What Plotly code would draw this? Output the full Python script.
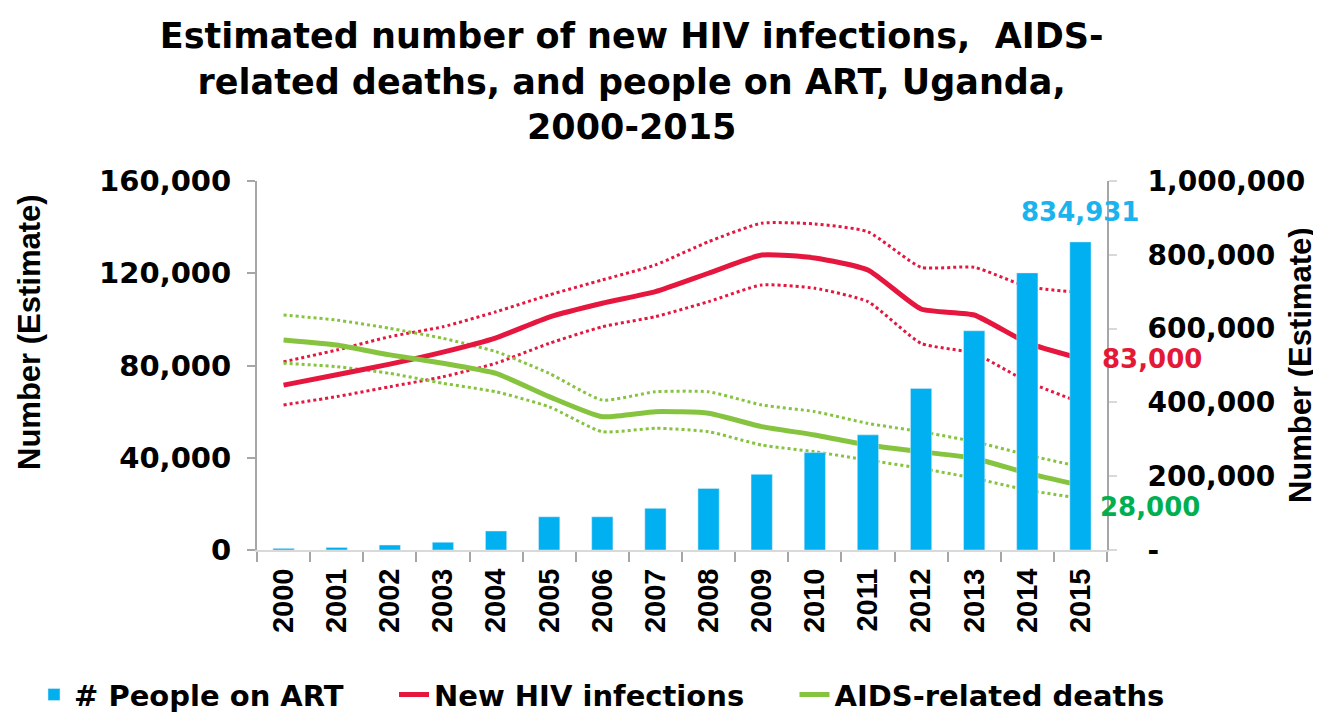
import plotly.graph_objects as go

years = list(range(2000, 2016))

# people on ART (right axis)
art = [4500, 7000, 13500, 21000, 51500, 90000, 90000, 113000,
       167000, 205000, 264000, 312000, 438000, 594000, 751000, 834931]

# new HIV infections + bounds
hiv = [71500, 76000, 80600, 85800, 92000, 101000, 107000, 112000,
       120000, 127900, 126600, 121400, 104500, 101900, 89800, 83000]
hiv_hi = [81600, 86700, 92500, 96800, 103300, 110600, 117100, 123600,
          133700, 141700, 141400, 138000, 122600, 122600, 114200, 111600]
hiv_lo = [62900, 66500, 70800, 75100, 81000, 89600, 96800, 101200,
          107700, 114900, 113500, 107700, 89600, 85300, 73000, 64000]

# AIDS-related deaths + bounds
deaths = [91100, 88900, 84600, 81000, 76600, 66500, 57800, 60000,
          59300, 53500, 49900, 45500, 42600, 39800, 33300, 28000]
deaths_hi = [101900, 99700, 96100, 91800, 86000, 76600, 65000, 68600,
             68600, 62900, 60000, 54900, 51300, 47000, 41200, 36100]
deaths_lo = [81000, 79500, 76600, 72300, 68600, 62100, 51300, 52800,
             51300, 45500, 42600, 39000, 35400, 31100, 26000, 22400]

BLUE = "#00B0F0"
RED = "#E5173F"
GREEN = "#86C440"
FONT = "DejaVu Sans"

fig = go.Figure()

fig.add_trace(go.Bar(x=years, y=art, name="# People on ART", marker_color=BLUE,
                     width=0.4, yaxis="y2", legend="legend"))

for ys, col in [(hiv_hi, RED), (hiv_lo, RED), (deaths_hi, GREEN), (deaths_lo, GREEN)]:
    fig.add_trace(go.Scatter(x=years, y=ys, mode="lines", showlegend=False,
                             line=dict(color=col, width=3, dash="dot", shape="spline", smoothing=0.5)))

fig.add_trace(go.Scatter(x=years, y=hiv, mode="lines", name="New HIV infections", legend="legend2",
                         line=dict(color=RED, width=5, shape="spline", smoothing=0.5)))
fig.add_trace(go.Scatter(x=years, y=deaths, mode="lines", name="AIDS-related deaths", legend="legend3",
                         line=dict(color=GREEN, width=5, shape="spline", smoothing=0.5)))

# end labels
fig.add_annotation(x=years[-1], y=art[-1], yref="y2", text="834,931", showarrow=False,
                   yshift=30, font=dict(family=FONT, size=26, color="#1BB3EE", weight="bold"))
fig.add_annotation(x=years[-1], y=hiv[-1], text="83,000", showarrow=False,
                   xanchor="left", xshift=20, font=dict(family=FONT, size=26, color="#E31937", weight="bold"))
fig.add_annotation(x=years[-1], y=deaths[-1], text="28,000", showarrow=False,
                   xanchor="left", xshift=18, yshift=-22,
                   font=dict(family=FONT, size=26, color="#00B050", weight="bold"))

# axis titles
title_font = dict(family="Liberation Sans", size=31, color="black", weight="bold")
fig.add_annotation(x=-0.267, y=0.591, xref="paper", yref="paper", text="Number (Estimate)",
                   textangle=-90, showarrow=False, xanchor="center", yanchor="middle", font=title_font)
fig.add_annotation(x=1.227, y=0.501, xref="paper", yref="paper", text="Number (Estimate)",
                   textangle=-90, showarrow=False, xanchor="center", yanchor="middle", font=title_font)

leg_font = dict(family=FONT, size=29, weight="bold")
leg_common = dict(orientation="h", xanchor="left", xref="container", y=0.026, yanchor="middle",
                  yref="container", font=leg_font, itemwidth=30)

fig.update_layout(
    width=1313, height=705,
    paper_bgcolor="white", plot_bgcolor="white",
    margin=dict(l=249, r=214, t=173, b=163),
    title=dict(
        text="Estimated number of new HIV infections,  AIDS-<br>related deaths, and people on ART, Uganda,<br>2000-2015",
        x=0.475, xanchor="center", y=0.943, yanchor="middle", yref="container",
        font=dict(family=FONT, size=35, color="black", weight="bold")),
    font=dict(family=FONT, color="black"),
    xaxis=dict(range=[1999.5, 2015.5], tickvals=years, ticks="", automargin=False,
               showgrid=False, showline=True, linecolor="#D9D9D9", linewidth=2, zeroline=False,
               tickangle=-90, ticklabelstandoff=5,
               tickfont=dict(family="Liberation Sans", size=29, weight="bold"),
               minor=dict(tickvals=[y - 0.5 for y in years] + [years[-1] + 0.5],
                          ticks="outside", ticklen=10, tickcolor="#A6A6A6", tickwidth=2, showgrid=False)),
    yaxis=dict(range=[0, 160000], tickvals=[0, 40000, 80000, 120000, 160000], tickformat=",",
               showgrid=False, zeroline=False, showline=True, linecolor="#A6A6A6", linewidth=2,
               ticks="outside", ticklen=8, tickcolor="#A6A6A6", tickwidth=2, automargin=False,
               ticklabelstandoff=10,
               tickfont=dict(family=FONT, size=29, weight="bold")),
    yaxis2=dict(range=[0, 1000000], overlaying="y", side="right",
                tickvals=[0, 200000, 400000, 600000, 800000, 1000000],
                ticktext=["-", "200,000", "400,000", "600,000", "800,000", "1,000,000"],
                showgrid=False, zeroline=False, showline=True, linecolor="#A6A6A6", linewidth=2,
                ticks="outside", ticklen=8, tickcolor="#D9D9D9", tickwidth=2, automargin=False,
                ticklabelstandoff=25,
                tickfont=dict(family=FONT, size=28, weight="bold")),
    legend=dict(x=0.0198, **leg_common),
    legend2=dict(x=0.294, **leg_common),
    legend3=dict(x=0.599, **leg_common),
)

fig.write_html("out.html")
